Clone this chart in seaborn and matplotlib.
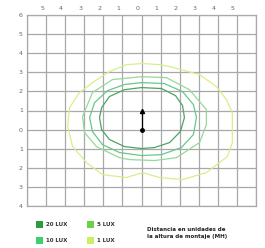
import matplotlib
matplotlib.use("Agg")
import matplotlib.pyplot as plt
import matplotlib.transforms as mtransforms
from matplotlib.patches import Rectangle
import seaborn as sns
import pandas as pd

# ---- data ----
x_ticks = [-5, -4, -3, -2, -1, 0, 1, 2, 3, 4, 5]
x_labels = ["5", "4", "3", "2", "1", "0", "1", "2", "3", "4", "5"]
y_ticks = [6, 5, 4, 3, 2, 1, 0, -1, -2, -3, -4]
y_labels = ["6", "5", "4", "3", "2", "1", "0", "1", "2", "3", "4"]

lux20_x = [0, 1.05, 1.78, 2.15, 2.25, 2.04, 1.47, 0.68, 0, -0.89, -1.68, -2.09, -2.20, -2.09, -1.68, -0.89, 0]
lux20_y = [2.20, 2.15, 1.78, 1.26, 0.63, -0.10, -0.68, -0.94, -0.99, -0.89, -0.52, 0, 0.63, 1.15, 1.73, 2.09, 2.20]

lux10_x = [0, 1.20, 2.15, 2.72, 2.88, 2.72, 2.09, 1.05, 0, -1.15, -2.04, -2.57, -2.72, -2.46, -1.78, -0.89, 0]
lux10_y = [2.46, 2.41, 1.99, 1.31, 0.63, -0.26, -0.94, -1.31, -1.36, -1.20, -0.79, -0.10, 0.63, 1.41, 2.04, 2.36, 2.46]

lux5_x = [0, 1.31, 2.51, 3.40, 3.40, 3.04, 1.83, 0.68, -0.63, -1.15, -2.36, -2.98, -3.09, -2.57, -1.52, 0]
lux5_y = [2.77, 2.72, 2.09, 1.05, 0.26, -0.68, -1.47, -1.62, -1.57, -1.47, -0.89, -0.16, 0.68, 1.94, 2.62, 2.77]

lux1_x = [0.05, 0.94, 1.47, 3.04, 3.93, 4.45, 4.76, 4.76, 4.50, 3.40, 2.15, 0.94, 0.05, -0.79, -2.04, -2.88, -3.61, -3.87, -3.77, -3.25, -2.57, -1.68, -0.79, 0.05]
lux1_y = [3.46, 3.40, 3.30, 2.88, 2.25, 1.57, 0.89, -0.68, -1.41, -2.25, -2.62, -2.51, -2.25, -2.51, -2.36, -1.73, -0.89, 0.16, 1.15, 1.94, 2.46, 3.04, 3.40, 3.46]

lum_x = [0, 0]
lum_y = [0, 1]

series_names = ["20 LUX", "10 LUX", "5 LUX", "1 LUX"]
line_colors = ["#4fa463", "#66c98a", "#96d89a", "#d6ef8c"]
legend_colors = ["#2e9a3e", "#3dd068", "#6cd04a", "#c8f060"]

# ---- figure ----
sns.set_theme(style="white")
plt.rcParams["font.family"] = ["DejaVu Sans"]
fig = plt.figure(figsize=(2.65, 2.48), dpi=100)
ax = fig.add_axes([27 / 265, 1 - 206 / 248, 229 / 265, 191 / 248])

ax.set_xlim(-6, 6)
ax.set_ylim(-4, 6)

grid_color = "#a8a8a8"
for v in range(-6, 7):
    ax.axvline(v, color=grid_color, lw=0.9, zorder=0)
for v in range(-4, 7):
    ax.axhline(v, color=grid_color, lw=0.9, zorder=0)

data = [(lux1_x, lux1_y, 3), (lux5_x, lux5_y, 2), (lux10_x, lux10_y, 1), (lux20_x, lux20_y, 0)]
for xs, ys, i in data:
    df = pd.DataFrame({"x": xs, "y": ys, "order": range(len(xs))})
    sns.lineplot(data=df, x="x", y="y", sort=False, estimator=None,
                 color=line_colors[i], lw=0.9, ax=ax, zorder=2)

ax.plot(lum_x, lum_y, color="black", lw=0.9, zorder=3)
ax.plot([lum_x[0]], [lum_y[0]], marker="o", ms=2.5, color="black", zorder=4)
ax.plot([lum_x[1]], [lum_y[1]], marker="^", ms=3, color="black", zorder=4)

ax.set_xlabel("")
ax.set_ylabel("")
ax.xaxis.tick_top()
ax.set_xticks(x_ticks)
ax.set_xticklabels(x_labels, fontsize=4.5, color="#666666")
ax.set_yticks(y_ticks)
ax.set_yticklabels(y_labels, fontsize=4.5, color="#666666")
ax.tick_params(axis="both", length=0, pad=3)
off = mtransforms.ScaledTranslation(-4 / 100, 0, fig.dpi_scale_trans)
for lbl in ax.get_xticklabels():
    lbl.set_transform(lbl.get_transform() + off)
for s in ax.spines.values():
    s.set_color(grid_color)
    s.set_linewidth(0.9)

# ---- legend ----
pos = [(36, 221), (36, 237), (87, 221), (87, 237)]
for (px, py), name, col in zip(pos, series_names, legend_colors):
    fig.patches.append(Rectangle((px / 265, 1 - (py + 7) / 248), 7 / 265, 7 / 248,
                                 transform=fig.transFigure, facecolor=col, edgecolor="none"))
    fig.text((px + 10) / 265, 1 - (py + 3.5) / 248, name, fontsize=4, color="#333333",
             va="center", ha="left", fontweight="bold")

fig.text(147 / 265, 1 - 233 / 248, "Distancia en unidades de\nla altura de montaje (MH)",
         fontsize=4, color="#222222", va="center", ha="left", fontweight="bold",
         linespacing=1.3)

fig.savefig("out.png", dpi=100)
